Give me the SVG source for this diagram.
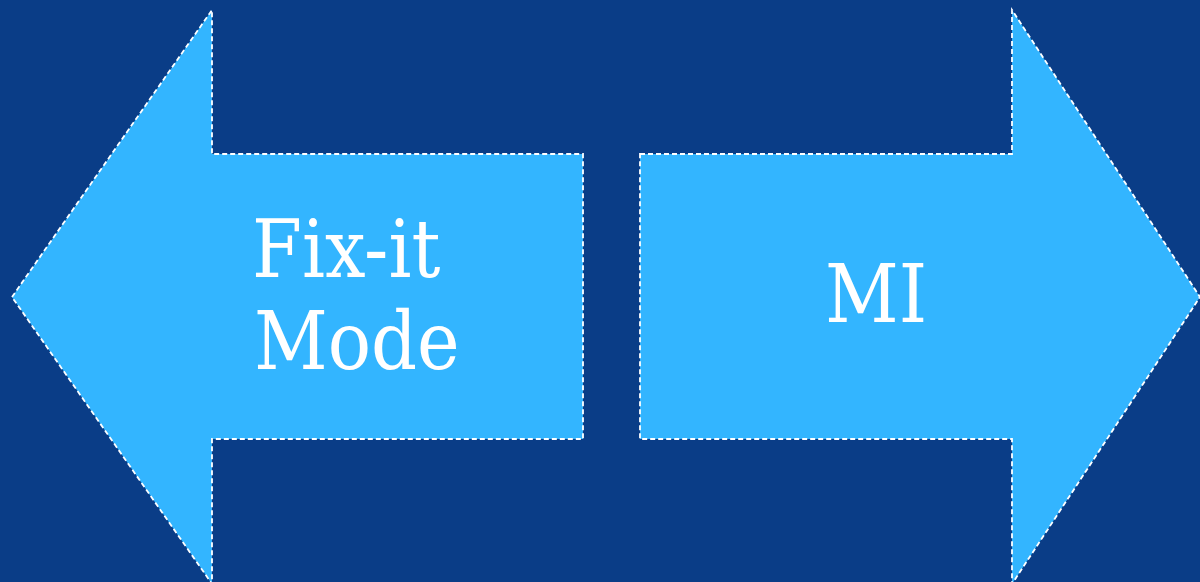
<svg xmlns="http://www.w3.org/2000/svg" width="1200" height="582" viewBox="0 0 1200 582">
<style>
.arrow{fill:#33b5ff;stroke:#ffffff;stroke-width:1.8;stroke-dasharray:5 3}
.lbl{fill:#ffffff;font-family:"DejaVu Serif Condensed","DejaVu Serif",serif;font-stretch:condensed;font-size:80px}
</style>
<rect x="0" y="0" width="1200" height="582" fill="#0a3d87"/>
<g id="fixit">
<polygon class="arrow" points="12,297 212,10 212,154 583,154 583,439 212,439 212,584"/>
<text class="lbl" x="252" y="277">Fix-it</text>
<text class="lbl" x="254" y="369">Mode</text>
</g>
<g id="mi">
<polygon class="arrow" points="640,154 1012,154 1012,10 1200,297 1012,584 1012,439 640,439"/>
<text class="lbl" x="876" y="322" text-anchor="middle">MI</text>
</g>
<g id="connectors"/>
</svg>
